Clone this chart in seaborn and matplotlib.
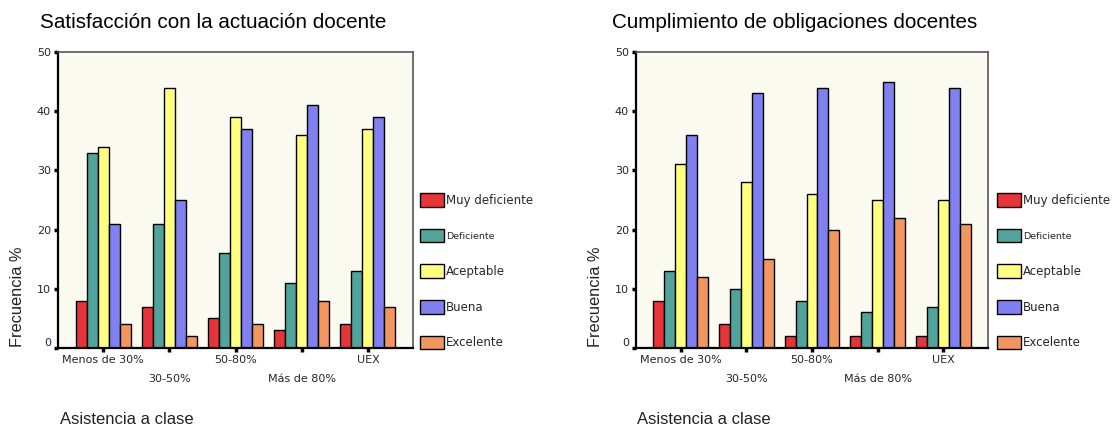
import matplotlib
matplotlib.use("Agg")
import matplotlib.pyplot as plt
import matplotlib.transforms as mtransforms
from matplotlib.patches import Patch
import numpy as np
import pandas as pd
import seaborn as sns

# Categories (x axis) and response levels (hue)
GROUPS = ["Menos de 30%", "30-50%", "50-80%", "Más de 80%", "UEX"]
LEVELS = ["Muy deficiente", "Deficiente", "Aceptable", "Buena", "Excelente"]
COLORS = ["#E6353A", "#52A39C", "#FFFF80", "#8080F0", "#F29660"]

# Satisfacción con la actuación docente (% per level, one list per group)
sat_muy_def = [8, 7, 5, 3, 4]
sat_def = [33, 21, 16, 11, 13]
sat_acept = [34, 44, 39, 36, 37]
sat_buena = [21, 25, 37, 41, 39]
sat_exc = [4, 2, 4, 8, 7]

# Cumplimiento de obligaciones docentes
cum_muy_def = [8, 4, 2, 2, 2]
cum_def = [13, 10, 8, 6, 7]
cum_acept = [31, 28, 26, 25, 25]
cum_buena = [36, 43, 44, 45, 44]
cum_exc = [12, 15, 20, 22, 21]

TITLES = ["Satisfacción con la actuación docente", "Cumplimiento de obligaciones docentes"]
Y_TICKS = [0, 10, 20, 30, 40, 50]


def to_long(series):
    """Build a long-form table from the five level series"""
    rows = []
    for level, values in zip(LEVELS, series):
        for group, v in zip(GROUPS, values):
            rows.append({"grupo": group, "nivel": level, "valor": v})
    return pd.DataFrame(rows)


data = [
    to_long([sat_muy_def, sat_def, sat_acept, sat_buena, sat_exc]),
    to_long([cum_muy_def, cum_def, cum_acept, cum_buena, cum_exc]),
]

sns.set_theme(style="white")
plt.rcParams["font.family"] = ["Liberation Sans", "DejaVu Sans"]

W, H = 1112, 428
fig = plt.figure(figsize=(W / 100, H / 100), dpi=100)

# pixel layout of the two panels: (left, right, top, bottom), plus legend/title anchors
panels = [
    dict(ax=(58, 413, 52, 348), title_x=40, leg_x=420, xlab_x=60, ylab_x=18),
    dict(ax=(636, 988, 52, 348), title_x=612, leg_x=997, xlab_x=637, ylab_x=596),
]

for df, title, p in zip(data, TITLES, panels):
    l, r, t, b = p["ax"]
    ax = fig.add_axes([l / W, (H - b) / H, (r - l) / W, (b - t) / H])
    ax.set_facecolor("#FAFAF0")

    sns.barplot(
        data=df, x="grupo", y="valor", hue="nivel", hue_order=LEVELS,
        order=GROUPS, palette=COLORS, saturation=1, width=0.83,
        edgecolor="black", linewidth=1, legend=False, ax=ax,
    )

    ax.set_xlim(-0.68, len(GROUPS) - 1 + 0.68)
    ax.set_ylim(0, 50)
    ax.set_yticks(Y_TICKS)
    ax.set_yticklabels([str(v) for v in Y_TICKS], fontsize=8, family="DejaVu Sans")
    ax.set_xlabel("")
    ax.set_ylabel("")

    # staggered category labels
    ax.set_xticks(range(len(GROUPS)))
    ax.set_xticklabels(
        [g if i % 2 == 0 else "\n" + g for i, g in enumerate(GROUPS)],
        fontsize=8, family="DejaVu Sans",
    )
    for i, lab in enumerate(ax.get_xticklabels()):
        if i % 2:
            lab.set_linespacing(2.1)

    ax.tick_params(axis="both", which="major", length=3, width=2.5,
                   direction="out", color="black", pad=2, bottom=True, left=True)
    # the zero label sits a little above its tick in the original
    zero = ax.get_yticklabels()[0]
    zero.set_transform(zero.get_transform()
                       + mtransforms.ScaledTranslation(0, 6 / 100, fig.dpi_scale_trans))

    for side in ["left", "bottom"]:
        ax.spines[side].set_color("black")
        ax.spines[side].set_linewidth(1.6)
    for side in ["top", "right"]:
        ax.spines[side].set_color("#555555")
        ax.spines[side].set_linewidth(1.2)

    fig.text(p["title_x"] / W, 1 - 22 / H, title, fontsize=14.9, va="center",
             ha="left", color="black")
    fig.text(p["xlab_x"] / W, 1 - 420 / H, "Asistencia a clase", fontsize=12,
             va="center", ha="left", color="#222222")
    fig.text(p["ylab_x"] / W, 1 - 347 / H, "Frecuencia %", fontsize=11.8,
             rotation=90, va="bottom", ha="center", color="#222222")

    handles = [Patch(facecolor=c, edgecolor="black", linewidth=1) for c in COLORS]
    leg = ax.legend(
        handles, LEVELS, loc="upper left",
        bbox_to_anchor=(p["leg_x"] / W, 1 - 193 / H), bbox_transform=fig.transFigure,
        frameon=False, borderpad=0, borderaxespad=0,
        handlelength=2.0, handleheight=1.4, handletextpad=0.2, labelspacing=1.86,
        prop={"family": "DejaVu Sans", "size": 8.5},
    )
    leg.get_texts()[1].set_fontsize(6.8)

fig.savefig("out.png", dpi=100)
plt.close(fig)
